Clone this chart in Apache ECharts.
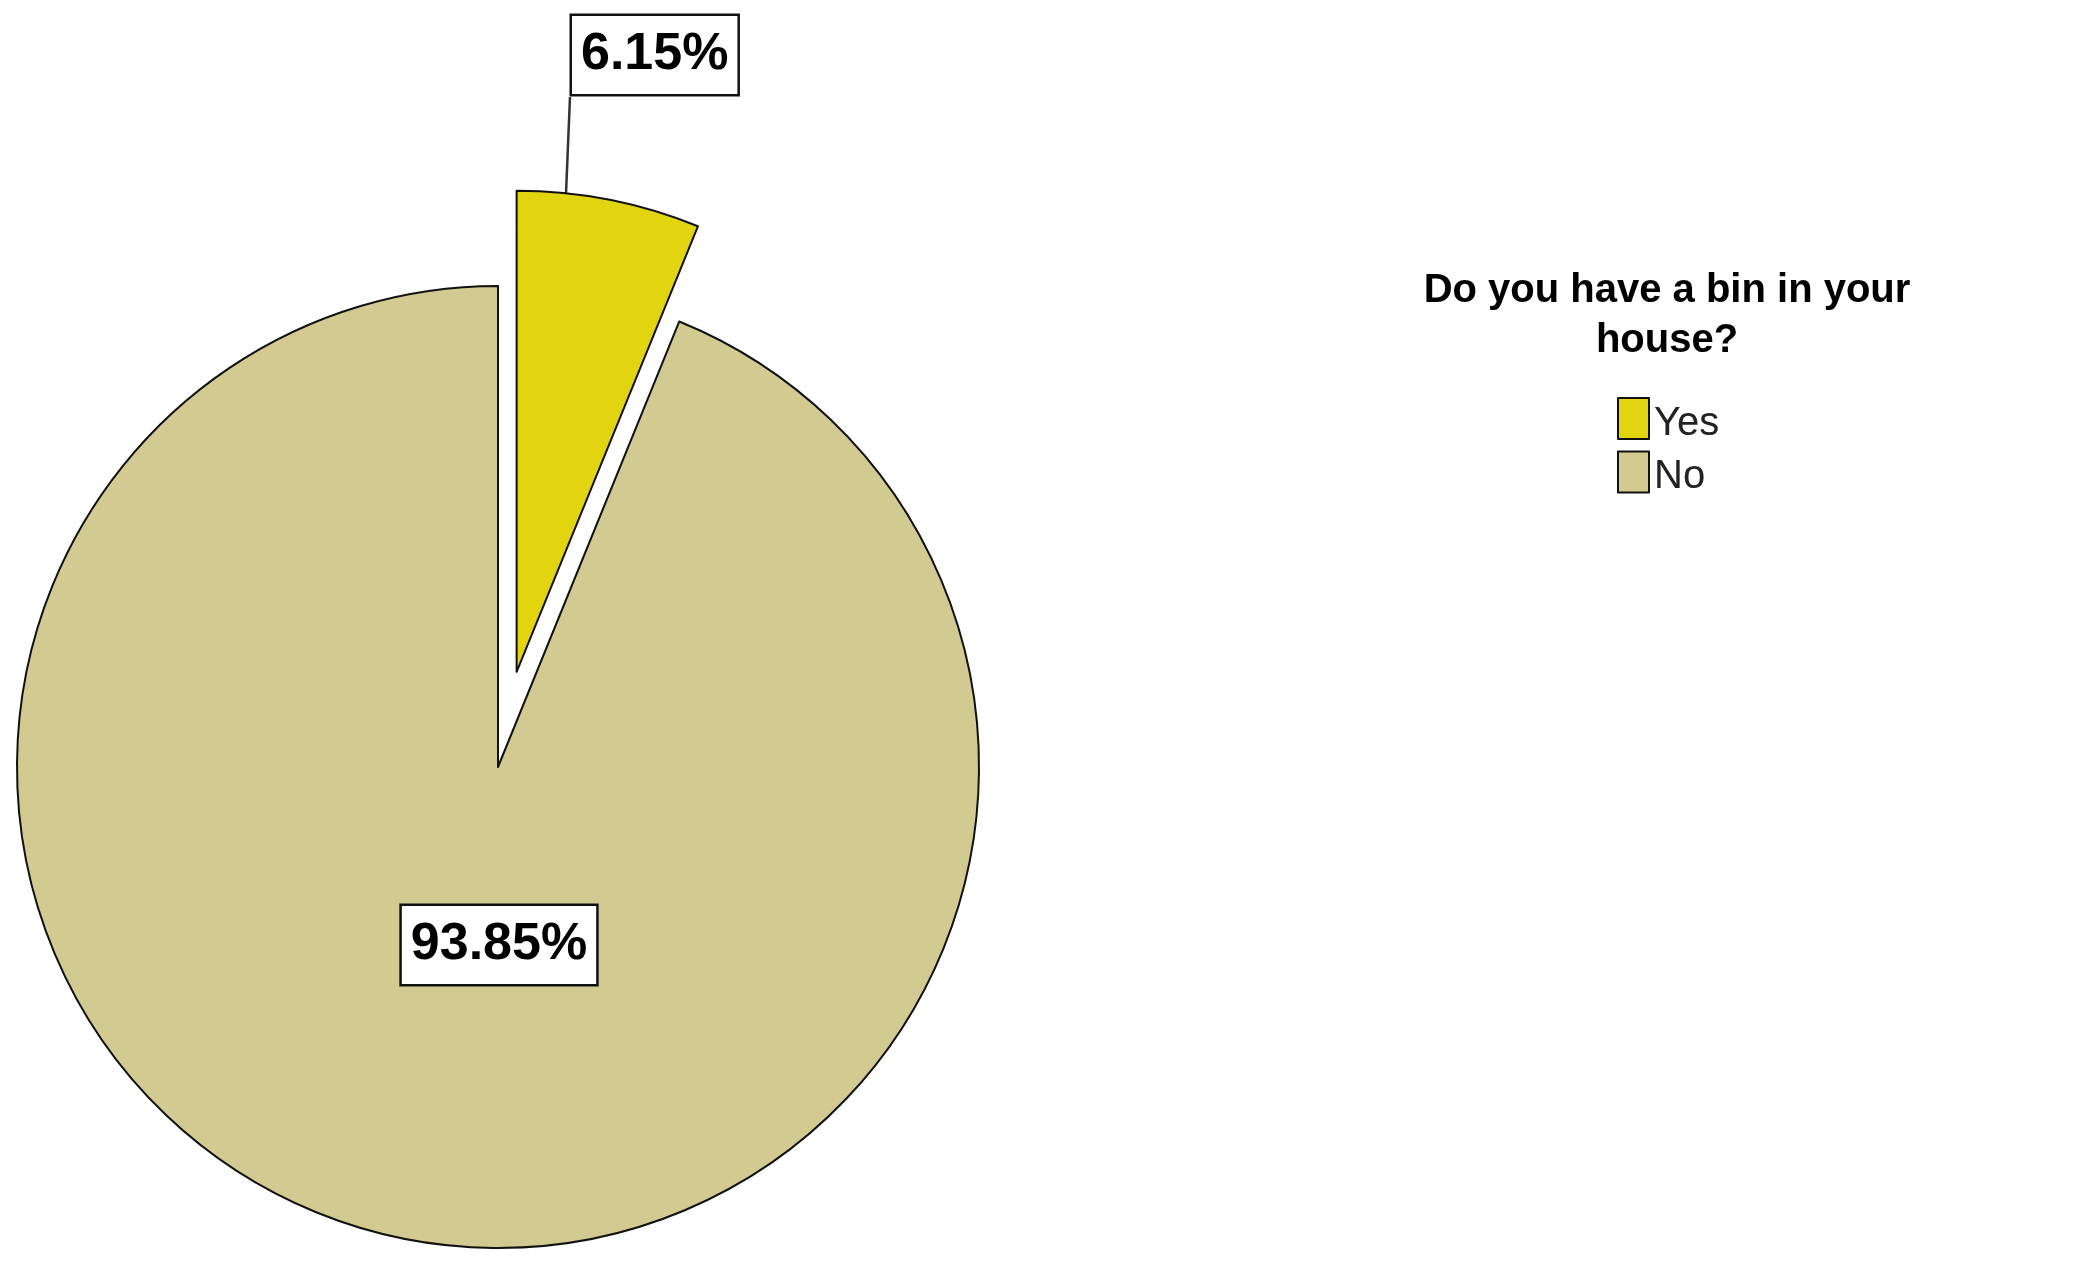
<!DOCTYPE html>
<html>
<head>
<meta charset="utf-8">
<script src="https://cdn.jsdelivr.net/npm/echarts@6/dist/echarts.min.js"></script>
<style>html,body{margin:0;padding:0;background:#fff}#c{width:2081px;height:1273px}</style>
</head>
<body>
<div id="c"></div>
<script>
const categories = ['Yes', 'No'];
const percents = [6.15, 93.85];
const legendTitle = 'Do you have a bin in your\nhouse?';

const colors = ['#E2D50F', '#D1CB91'];
const chart = echarts.init(document.getElementById('c'));
const labelFont = 'Arial, "Liberation Sans", sans-serif';

// pie geometry
const pieCenter = [498, 767];
const pieRadius = 481;
const explode = 97; // pull-out distance of the "Yes" slice
const total = percents.reduce((a, b) => a + b, 0);
const midAngle = (percents[0] / total) * Math.PI; // half of first slice sweep, from 12 o'clock
const explodedCenter = [pieCenter[0] + explode * Math.sin(midAngle), pieCenter[1] - explode * Math.cos(midAngle)];

// placement of the callout box of the exploded slice
const calloutX = 404, calloutY = 25, spacerW = 168, boxH = 80;
const boxLeft = calloutX + spacerW;
const boxBottom = calloutY + boxH - 8;
// leader line: from the slice's outer arc straight up to the box corner
const arcX = boxLeft - 6;
const arcY = explodedCenter[1] - Math.sqrt(pieRadius * pieRadius - Math.pow(arcX - explodedCenter[0], 2));

function seriesData(visibleIndex) {
  return categories.map((name, i) => ({
    name: name,
    value: percents[i],
    itemStyle: i === visibleIndex
      ? { color: colors[i], borderColor: '#111', borderWidth: 2 }
      : { color: 'rgba(0,0,0,0)', borderWidth: 0 },
    label: { show: i === visibleIndex },
    labelLine: { show: i === visibleIndex && i === 0 }
  }));
}

const richStyles = {
  s: { width: spacerW, fontSize: 10 },
  b: {
    fontFamily: labelFont, fontSize: 52, fontWeight: 'bold', color: '#000',
    lineHeight: 60, backgroundColor: '#fff', borderColor: '#111', borderWidth: 2.5,
    padding: [13, 9, 13, 9]
  }
};

const common = {
  type: 'pie',
  radius: pieRadius,
  startAngle: 90,
  clockwise: true,
  avoidLabelOverlap: false,
  emphasis: { disabled: true },
  silent: true
};

chart.setOption({
  animation: false,
  title: {
    text: legendTitle,
    left: 1667,
    top: 266,
    padding: 0,
    textAlign: 'center',
    textStyle: { fontFamily: labelFont, fontSize: 40, fontWeight: 'bold', lineHeight: 50, color: '#000' }
  },
  legend: {
    orient: 'vertical',
    left: 1617,
    top: 397,
    padding: 0,
    itemWidth: 31,
    itemHeight: 41,
    itemGap: 7,
    icon: 'rect',
    selectedMode: false,
    formatter: name => '{t|' + name + '}',
    textStyle: {
      rich: {
        t: { fontFamily: '"Liberation Sans Narrow", "Arial Narrow", Arial, sans-serif', fontSize: 40, color: '#222', padding: [10, 0, 0, 0] }
      }
    },
    data: categories.map((name, i) => ({
      name: name,
      itemStyle: { color: colors[i], borderColor: '#111', borderWidth: 2 }
    }))
  },
  series: [
    Object.assign({}, common, {
      name: 'exploded',
      center: explodedCenter,
      label: {
        show: true,
        position: 'outside',
        formatter: p => '{s| }{b|' + p.value.toFixed(2) + '%}',
        rich: richStyles
      },
      labelLine: { show: true, length: 60, length2: 0, lineStyle: { color: '#333', width: 2.5 } },
      labelLayout: function () {
        return {
          x: calloutX, y: calloutY, align: 'left', verticalAlign: 'top',
          labelLinePoints: [[arcX, arcY], [boxLeft - 2, boxBottom], [boxLeft - 2, boxBottom]]
        };
      },
      data: seriesData(0)
    }),
    Object.assign({}, common, {
      name: 'rest',
      center: pieCenter,
      label: {
        show: true,
        position: 'inside',
        formatter: p => '{b|' + p.value.toFixed(2) + '%}',
        rich: richStyles
      },
      labelLine: { show: false },
      labelLayout: function () {
        return { x: 499, y: 945, align: 'center', verticalAlign: 'middle' };
      },
      data: seriesData(1)
    })
  ]
});
</script>
</body>
</html>
